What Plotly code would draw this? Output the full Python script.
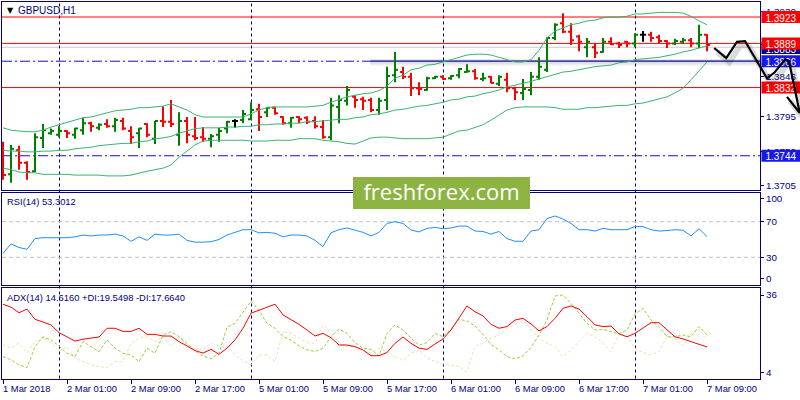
import plotly.graph_objects as go

# ---------------- data ----------------
BAR_OPEN = [1.3754, 1.3720, 1.3751, 1.3735, 1.3724, 1.3767, 1.3773, 1.3771, 1.3776, 1.3771,
            1.3777, 1.3786, 1.3780, 1.3785, 1.3782, 1.3789, 1.3776, 1.3773, 1.3785, 1.3766,
            1.3789, 1.3788, 1.3771, 1.3789, 1.3769, 1.3768, 1.3766, 1.3771, 1.3779, 1.3789,
            1.3790, 1.3791, 1.3804, 1.3800, 1.3806, 1.3794, 1.3786, 1.3794, 1.3793, 1.3789,
            1.3781, 1.3768, 1.3807, 1.3815, 1.3820, 1.3817, 1.3816, 1.3803, 1.3816, 1.3848,
            1.3852, 1.3846, 1.3831, 1.3829, 1.3844, 1.3846, 1.3844, 1.3848, 1.3852, 1.3853,
            1.3843, 1.3846, 1.3837, 1.3842, 1.3831, 1.3825, 1.3829, 1.3846, 1.3855, 1.3896,
            1.3915, 1.3904, 1.3898, 1.3884, 1.3884, 1.3878, 1.3891, 1.3889, 1.3891, 1.3889,
            1.3900, 1.3900, 1.3897, 1.3892, 1.3889, 1.3891, 1.3893, 1.3889, 1.3900]
BAR_HIGH = [1.3762, 1.3758, 1.3757, 1.3737, 1.3773, 1.3785, 1.3779, 1.3782, 1.3777, 1.3780,
            1.3793, 1.3788, 1.3786, 1.3791, 1.3793, 1.3793, 1.3782, 1.3780, 1.3786, 1.3789,
            1.3808, 1.3816, 1.3800, 1.3794, 1.3794, 1.3781, 1.3772, 1.3780, 1.3789, 1.3791,
            1.3803, 1.3813, 1.3811, 1.3807, 1.3807, 1.3795, 1.3794, 1.3795, 1.3795, 1.3795,
            1.3790, 1.3819, 1.3822, 1.3834, 1.3822, 1.3820, 1.3819, 1.3819, 1.3859, 1.3878,
            1.3859, 1.3851, 1.3839, 1.3846, 1.3847, 1.3848, 1.3848, 1.3857, 1.3862, 1.3856,
            1.3851, 1.3847, 1.3848, 1.3851, 1.3833, 1.3843, 1.3852, 1.3871, 1.3897, 1.3915,
            1.3928, 1.3915, 1.3900, 1.3896, 1.3889, 1.3896, 1.3897, 1.3891, 1.3892, 1.3902,
            1.3905, 1.3904, 1.3900, 1.3893, 1.3895, 1.3896, 1.3896, 1.3913, 1.3901]
BAR_LOW = [1.3713, 1.3709, 1.3726, 1.3713, 1.3723, 1.3754, 1.3771, 1.3768, 1.3767, 1.3766,
           1.3771, 1.3775, 1.3777, 1.3780, 1.3775, 1.3777, 1.3759, 1.3754, 1.3768, 1.3759,
           1.3781, 1.3781, 1.3757, 1.3760, 1.3764, 1.3762, 1.3755, 1.3762, 1.3773, 1.3780,
           1.3786, 1.3790, 1.3776, 1.3794, 1.3797, 1.3784, 1.3780, 1.3786, 1.3785, 1.3779,
           1.3766, 1.3764, 1.3786, 1.3809, 1.3806, 1.3803, 1.3800, 1.3797, 1.3803, 1.3839,
           1.3843, 1.3821, 1.3822, 1.3828, 1.3843, 1.3842, 1.3842, 1.3844, 1.3851, 1.3842,
           1.3840, 1.3838, 1.3834, 1.3826, 1.3816, 1.3816, 1.3822, 1.3842, 1.3852, 1.3893,
           1.3902, 1.3887, 1.3879, 1.3871, 1.3870, 1.3877, 1.3887, 1.3883, 1.3884, 1.3884,
           1.3891, 1.3891, 1.3889, 1.3883, 1.3887, 1.3889, 1.3884, 1.3883, 1.3879]
BAR_CLOSE = [1.3719, 1.3753, 1.3735, 1.3723, 1.3768, 1.3777, 1.3776, 1.3776, 1.3773, 1.3779,
             1.3786, 1.3782, 1.3784, 1.3782, 1.3790, 1.3779, 1.3768, 1.3779, 1.3771, 1.3789,
             1.3788, 1.3785, 1.3789, 1.3771, 1.3767, 1.3766, 1.3769, 1.3776, 1.3788, 1.3789,
             1.3798, 1.3803, 1.3794, 1.3806, 1.3799, 1.3786, 1.3793, 1.3791, 1.3788, 1.3782,
             1.3768, 1.3809, 1.3816, 1.3829, 1.3816, 1.3815, 1.3803, 1.3815, 1.3847, 1.3855,
             1.3846, 1.3831, 1.3830, 1.3844, 1.3846, 1.3843, 1.3847, 1.3856, 1.3853, 1.3844,
             1.3844, 1.3838, 1.3846, 1.3831, 1.3826, 1.3830, 1.3846, 1.3859, 1.3896, 1.3913,
             1.3904, 1.3893, 1.3891, 1.3891, 1.3877, 1.3891, 1.3888, 1.3887, 1.3889, 1.3900,
             1.3900, 1.3896, 1.3892, 1.3889, 1.3892, 1.3893, 1.3889, 1.3900, 1.3887]

BB_UPPER = [1.3780, 1.3777, 1.3776, 1.3775, 1.3775, 1.3777, 1.3781, 1.3784, 1.3786, 1.3790,
            1.3793, 1.3794, 1.3797, 1.3799, 1.3802, 1.3803, 1.3804, 1.3806, 1.3806, 1.3807,
            1.3808, 1.3811, 1.3807, 1.3803, 1.3797, 1.3794, 1.3794, 1.3794, 1.3794, 1.3794,
            1.3794, 1.3798, 1.3803, 1.3806, 1.3807, 1.3807, 1.3807, 1.3807, 1.3807, 1.3808,
            1.3809, 1.3813, 1.3817, 1.3820, 1.3822, 1.3824, 1.3825, 1.3828, 1.3834, 1.3844,
            1.3848, 1.3855, 1.3857, 1.3861, 1.3862, 1.3865, 1.3868, 1.3871, 1.3874, 1.3875,
            1.3875, 1.3874, 1.3871, 1.3868, 1.3865, 1.3865, 1.3868, 1.3880, 1.3896, 1.3905,
            1.3909, 1.3913, 1.3915, 1.3918, 1.3919, 1.3922, 1.3923, 1.3923, 1.3924, 1.3927,
            1.3927, 1.3928, 1.3929, 1.3929, 1.3929, 1.3928, 1.3924, 1.3918, 1.3913]
BB_MIDDLE = [1.3751, 1.3750, 1.3750, 1.3749, 1.3749, 1.3750, 1.3750, 1.3751, 1.3751, 1.3753,
             1.3754, 1.3755, 1.3757, 1.3758, 1.3759, 1.3760, 1.3760, 1.3762, 1.3763, 1.3766,
             1.3767, 1.3769, 1.3773, 1.3776, 1.3779, 1.3780, 1.3780, 1.3780, 1.3781, 1.3781,
             1.3782, 1.3782, 1.3784, 1.3784, 1.3785, 1.3785, 1.3786, 1.3786, 1.3788, 1.3788,
             1.3789, 1.3790, 1.3791, 1.3791, 1.3793, 1.3794, 1.3797, 1.3798, 1.3800, 1.3803,
             1.3804, 1.3806, 1.3808, 1.3809, 1.3811, 1.3813, 1.3816, 1.3817, 1.3820, 1.3821,
             1.3824, 1.3826, 1.3829, 1.3833, 1.3835, 1.3838, 1.3840, 1.3843, 1.3846, 1.3849,
             1.3852, 1.3853, 1.3855, 1.3857, 1.3859, 1.3860, 1.3861, 1.3864, 1.3865, 1.3868,
             1.3869, 1.3870, 1.3871, 1.3873, 1.3875, 1.3878, 1.3880, 1.3883, 1.3886]
BB_LOWER = [1.3728, 1.3726, 1.3723, 1.3722, 1.3722, 1.3720, 1.3720, 1.3720, 1.3720, 1.3719,
            1.3719, 1.3719, 1.3719, 1.3718, 1.3718, 1.3718, 1.3719, 1.3722, 1.3724, 1.3726,
            1.3728, 1.3732, 1.3742, 1.3750, 1.3758, 1.3763, 1.3764, 1.3764, 1.3764, 1.3764,
            1.3764, 1.3763, 1.3763, 1.3763, 1.3764, 1.3764, 1.3764, 1.3766, 1.3766, 1.3766,
            1.3764, 1.3763, 1.3762, 1.3760, 1.3759, 1.3763, 1.3767, 1.3768, 1.3768, 1.3767,
            1.3766, 1.3766, 1.3766, 1.3766, 1.3767, 1.3768, 1.3772, 1.3776, 1.3777, 1.3781,
            1.3784, 1.3790, 1.3797, 1.3803, 1.3806, 1.3807, 1.3807, 1.3807, 1.3807, 1.3806,
            1.3804, 1.3804, 1.3804, 1.3806, 1.3806, 1.3807, 1.3808, 1.3809, 1.3809, 1.3811,
            1.3812, 1.3815, 1.3817, 1.3820, 1.3825, 1.3831, 1.3842, 1.3853, 1.3865]

RSI = [34.5, 45, 41, 39, 51, 52, 52, 52, 52, 53,
       55, 54, 55, 55, 56, 54, 48, 53, 49, 56,
       55, 55, 56, 49, 47, 47, 47.5, 50, 55, 58,
       61, 61, 57.5, 58, 57, 53, 55, 55, 54, 49,
       42, 57.5, 61, 63, 60.5, 58, 54, 58, 68, 70,
       68, 60.7, 58.5, 62.5, 63.7, 62, 63, 65, 65, 59.5,
       59, 56, 59, 51, 48, 48, 59.5, 61, 73.5, 76.4,
       73, 68, 61, 61, 59.5, 62.5, 61, 61, 61, 64.5,
       64.5, 61, 59.5, 60, 61, 60.5, 54, 62, 53.3]

ADX = [32.2, 31, 28.7, 30.2, 26, 24.9, 23.7, 20.5, 18.8, 17,
       17.8, 18.3, 18.7, 22.3, 22.3, 21, 21, 22.3, 19.8, 19.8,
       19.1, 19.1, 16.8, 15, 13.1, 12.1, 13.6, 11.6, 14.1, 17.5,
       22.3, 28.5, 29.8, 31, 32.2, 27.8, 26, 23.9, 21.6, 19.1,
       20.2, 18.4, 15.4, 15.4, 14.7, 13.4, 11, 11, 12.3, 16.1,
       18.7, 16.1, 14.1, 13.6, 15.8, 17.9, 21.6, 26.4, 31.5, 29.1,
       27.4, 23.9, 22.3, 23, 25.7, 26.4, 24.1, 21.2, 23, 26.4,
       30.5, 31.5, 30.2, 27.1, 23.7, 23, 23.2, 20, 18.8, 20.2,
       22.3, 24.6, 24.6, 21.6, 18.8, 17.9, 16.8, 15.4, 14.6]
PLUS_DI = [10.6, 9.3, 7.2, 6.1, 14.7, 18.8, 17.5, 15, 12, 10.6,
           16.8, 14.7, 12.7, 17.5, 14.1, 12, 11.3, 8.6, 14.1, 12,
           19.5, 20.9, 18.8, 16.1, 13, 10.9, 9.7, 12, 22.7, 24.3,
           28.7, 33.5, 29.8, 24.3, 22.3, 18.8, 17.5, 15, 13.4, 12.7,
           14.1, 18.8, 21.9, 20.2, 16.4, 14.1, 13.6, 10.9, 20.2, 23.7,
           21.6, 18.2, 15.4, 16.4, 20.2, 18.8, 21.9, 26, 25.3, 23.2,
           19.8, 15.7, 13.4, 10.6, 9.7, 10.9, 14.4, 19.5, 25.7, 35.6,
           36, 32.6, 28.5, 24.3, 21.6, 21.9, 20.9, 20, 21.6, 28.2,
           30.5, 25.7, 23, 18.8, 18.8, 19.5, 18.8, 23, 19.5]
MINUS_DI = [15.4, 14.1, 16.1, 12.3, 16.8, 18.4, 16.4, 12.7, 14.7, 10,
            8.6, 7.2, 6.5, 6.1, 8.6, 8.6, 16.1, 18.4, 18.8, 16.8,
            18.8, 14.7, 18.8, 15.4, 13.6, 13.6, 16.1, 15, 15, 11.3,
            9, 7.2, 11.3, 11.3, 8.6, 20.9, 20.2, 18.2, 16.4, 16.1,
            23.7, 20.2, 16.1, 14.7, 15, 12.7, 12.3, 14.1, 12.7, 10.6,
            9, 12, 13.4, 10, 8.6, 7.6, 7.2, 6.5, 4.4, 15,
            16.1, 18.2, 19.5, 22.3, 23.9, 25.3, 21.9, 18.4, 16.1, 14.7,
            10.6, 13.4, 16.8, 20.2, 18.8, 16.1, 12.7, 20.2, 18.8, 14.1,
            12.3, 11.3, 12.7, 18.8, 18.2, 15, 20.2, 21.9, 17.7]

X_TICK_POS = [0, 8, 16, 24, 32, 40, 48, 56, 64, 72, 80, 88]
X_TICK_TEXT = ["1 Mar 2018", "2 Mar 01:00", "2 Mar 09:00", "2 Mar 17:00", "5 Mar 01:00",
               "5 Mar 09:00", "5 Mar 17:00", "6 Mar 01:00", "6 Mar 09:00", "6 Mar 17:00",
               "7 Mar 01:00", "7 Mar 09:00"]
DAY_SEPARATORS = [7, 31, 55, 79]
PRICE_TICKS = [1.3930, 1.3888, 1.3846, 1.3795, 1.3750, 1.3705]
# MT4 draws the 0 / 100 scale labels pulled inside the window
RSI_TICK_POS = [6, 30, 70, 95.5]
RSI_TICK_TEXT = ["0", "30", "70", "100"]
RSI_LEVELS = [70, 30]
ADX_TICKS = [4, 36]
RED_LEVELS = [1.3923, 1.3889, 1.3832]
BLUE_LEVELS = [1.3866, 1.3744]
ZONE_LEVEL = 1.3866
ZONE_START = 45.9
BID = 1.3884
FORECAST_X = [88.9, 90.4, 91.75, 92.75, 95.5, 96.5, 97.75, 98.25, 99.6]
FORECAST_Y = [1.3883, 1.3870, 1.3891, 1.3892, 1.3844, 1.3852, 1.3868, 1.3866, 1.3799]
ARROW_BARB = (98.0, 1.3820)
SYMBOL = "GBPUSD,H1"
RSI_TITLE = "RSI(14) 53.3012"
ADX_TITLE = "ADX(14) 14.6160 +DI:19.5498 -DI:17.6640"
WATERMARK = "freshforex.com"

# ---------------- layout geometry ----------------
W, H = 800, 400
NAVY = "#000080"
FONT = "Liberation Sans"
TXT = 9.4


def fx(p):
    return p / W


def fy(p):
    return 1 - p / H


X_DOM = [fx(2), fx(760)]
MAIN_DOM = [fy(190), fy(2)]
RSI_DOM = [fy(285), fy(193)]
ADX_DOM = [fy(378.5), fy(287.5)]
X_RANGE = [-0.125, 94.625]
PRICE_RANGE = [1.36998, 1.39424]
RSI_RANGE = [-1.1, 102.2]
ADX_RANGE = [1.6, 39.1]
HALF_PX_X = 0.5 / 8  # half a pixel in bar units (crisp 1px verticals)


def paper_x(i):
    return X_DOM[0] + (i - X_RANGE[0]) / (X_RANGE[1] - X_RANGE[0]) * (X_DOM[1] - X_DOM[0])


def paper_y(p):
    return MAIN_DOM[0] + (p - PRICE_RANGE[0]) / (PRICE_RANGE[1] - PRICE_RANGE[0]) * (MAIN_DOM[1] - MAIN_DOM[0])


N = len(BAR_OPEN)
IDX = list(range(N))
is_doji = [BAR_OPEN[i] == BAR_CLOSE[i] for i in IDX]


def pick(arr, want):
    return [arr[i] if is_doji[i] == want else None for i in IDX]


fig = go.Figure()

# Bollinger bands
for band in (BB_UPPER, BB_MIDDLE, BB_LOWER):
    fig.add_trace(go.Scatter(x=IDX, y=band, mode="lines", line=dict(color="#3cb371", width=1),
                             hoverinfo="skip", showlegend=False, xaxis="x", yaxis="y"))

# OHLC bars
fig.add_trace(go.Ohlc(x=IDX, open=pick(BAR_OPEN, False), high=pick(BAR_HIGH, False),
                      low=pick(BAR_LOW, False), close=pick(BAR_CLOSE, False),
                      increasing=dict(line=dict(color="#008000", width=2)),
                      decreasing=dict(line=dict(color="#ff0000", width=2)),
                      tickwidth=0.38, showlegend=False, hoverinfo="skip", xaxis="x", yaxis="y"))
fig.add_trace(go.Ohlc(x=IDX, open=pick(BAR_OPEN, True), high=pick(BAR_HIGH, True),
                      low=pick(BAR_LOW, True), close=pick(BAR_CLOSE, True),
                      increasing=dict(line=dict(color="#000000", width=2)),
                      decreasing=dict(line=dict(color="#000000", width=2)),
                      tickwidth=0.38, showlegend=False, hoverinfo="skip", xaxis="x", yaxis="y"))

# RSI
fig.add_trace(go.Scatter(x=IDX, y=RSI, mode="lines", line=dict(color="#1e90ff", width=1),
                         hoverinfo="skip", showlegend=False, xaxis="x2", yaxis="y2"))

# ADX
fig.add_trace(go.Scatter(x=IDX, y=MINUS_DI, mode="lines", line=dict(color="#f5deb3", width=1, dash="3px,2px"),
                         hoverinfo="skip", showlegend=False, xaxis="x3", yaxis="y3"))
fig.add_trace(go.Scatter(x=IDX, y=PLUS_DI, mode="lines", line=dict(color="#9acd32", width=1, dash="3px,2px"),
                         hoverinfo="skip", showlegend=False, xaxis="x3", yaxis="y3"))
fig.add_trace(go.Scatter(x=IDX, y=ADX, mode="lines", line=dict(color="#ff0000", width=1),
                         hoverinfo="skip", showlegend=False, xaxis="x3", yaxis="y3"))

shapes = []
# bid line
shapes.append(dict(type="line", xref="paper", x0=X_DOM[0], x1=X_DOM[1], yref="y", y0=BID, y1=BID,
                   line=dict(color="#cccccc", width=1), layer="below"))
for lv in RED_LEVELS:
    shapes.append(dict(type="line", xref="paper", x0=X_DOM[0], x1=X_DOM[1], yref="y", y0=lv, y1=lv,
                       line=dict(color="#ff0000", width=1), layer="below"))
for lv in BLUE_LEVELS:
    x_end = ZONE_START if lv == ZONE_LEVEL else X_RANGE[1]
    shapes.append(dict(type="line", xref="x", x0=X_RANGE[0], x1=x_end, yref="y", y0=lv, y1=lv,
                       line=dict(color="#1010c8", width=1, dash="10px,3px,2px,3px"), layer="below"))
# highlighted zone at 1.3866 (line with soft shadow below it)
for k, alpha in enumerate([0.13, 0.10, 0.07, 0.04]):
    off = (k + 1) * 0.00013
    shapes.append(dict(type="line", xref="x", x0=ZONE_START, x1=X_RANGE[1], yref="y",
                       y0=ZONE_LEVEL - off, y1=ZONE_LEVEL - off,
                       line=dict(color=f"rgba(60,60,80,{alpha})", width=1.5), layer="below"))
shapes.append(dict(type="line", xref="x", x0=ZONE_START, x1=X_RANGE[1], yref="y",
                   y0=ZONE_LEVEL + 0.00008, y1=ZONE_LEVEL + 0.00008,
                   line=dict(color="rgba(110,110,170,0.30)", width=2), layer="below"))
shapes.append(dict(type="line", xref="x", x0=ZONE_START, x1=X_RANGE[1], yref="y",
                   y0=ZONE_LEVEL, y1=ZONE_LEVEL, line=dict(color="#10108c", width=1.2), layer="below"))
# day separators
for d in DAY_SEPARATORS:
    shapes.append(dict(type="line", xref="x", x0=d + HALF_PX_X, x1=d + HALF_PX_X, yref="paper",
                       y0=ADX_DOM[0], y1=MAIN_DOM[1],
                       line=dict(color="#000070", width=1, dash="3px,3px"), layer="below"))
# RSI levels
for lv in RSI_LEVELS:
    shapes.append(dict(type="line", xref="paper", x0=X_DOM[0], x1=X_DOM[1], yref="y2", y0=lv, y1=lv,
                       line=dict(color="#c0c0c0", width=1, dash="4px,3px"), layer="below"))

# watermark
shapes.append(dict(type="rect", xref="paper", yref="paper", x0=fx(353), x1=fx(530), y0=fy(209), y1=fy(177),
                   fillcolor="#8db443", line=dict(width=0), layer="above",
                   label=dict(text=WATERMARK, font=dict(family="Open Sans", size=22, color="white"),
                              textposition="middle center")))

# price labels on the axis
LABEL_X0 = fx(761.5)
HALF = 6 / H


def price_label(price, color, text=None):
    return dict(type="rect", xref="paper", yref="paper", x0=LABEL_X0, x1=1.0,
                y0=paper_y(price) - HALF, y1=paper_y(price) + HALF,
                fillcolor=color, line=dict(width=0), layer="above",
                label=dict(text=text or f"{price:.4f}", font=dict(family=FONT, size=10, color="white"),
                           textposition="middle center"))


shapes.append(price_label(BID - 0.0001, "#000080", f"{BID - 0.0001:.4f}"))
for lv in RED_LEVELS:
    shapes.append(price_label(lv, "#ff0000"))
for lv in BLUE_LEVELS:
    shapes.append(price_label(lv, "#1818e8"))

# hand-drawn forecast arrow (with shadow)
pts = [(paper_x(a), paper_y(b)) for a, b in zip(FORECAST_X, FORECAST_Y)]
barb = (paper_x(ARROW_BARB[0]), paper_y(ARROW_BARB[1]))


def path_of(points, b, dx=0.0, dy=0.0):
    s = "M " + " L ".join(f"{x + dx:.5f},{y + dy:.5f}" for x, y in points)
    s += f" M {b[0] + dx:.5f},{b[1] + dy:.5f} L {points[-1][0] + dx:.5f},{points[-1][1] + dy:.5f}"
    return s


shapes.append(dict(type="path", xref="paper", yref="paper", path=path_of(pts, barb, 3 / W, -4 / H),
                   line=dict(color="rgba(0,0,0,0.14)", width=6), layer="above"))
shapes.append(dict(type="path", xref="paper", yref="paper", path=path_of(pts, barb),
                   line=dict(color="#000000", width=2.2), layer="above"))

annotations = []
annotations.append(dict(text="▼", xref="paper", yref="paper", x=fx(5), y=fy(10), xanchor="left",
                        yanchor="middle", showarrow=False, font=dict(family="DejaVu Sans", size=8, color="#000000")))
annotations.append(dict(text=SYMBOL, xref="paper", yref="paper", x=fx(16), y=fy(10), xanchor="left",
                        yanchor="middle", showarrow=False, font=dict(family=FONT, size=10, color=NAVY)))
annotations.append(dict(text=RSI_TITLE, xref="paper", yref="paper", x=fx(5), y=fy(201.5), xanchor="left",
                        yanchor="middle", showarrow=False, font=dict(family=FONT, size=TXT, color=NAVY)))
annotations.append(dict(text=ADX_TITLE, xref="paper", yref="paper", x=fx(5), y=fy(297), xanchor="left",
                        yanchor="middle", showarrow=False, font=dict(family=FONT, size=TXT, color=NAVY)))
for pos, txt in zip(X_TICK_POS, X_TICK_TEXT):
    annotations.append(dict(text=txt, xref="x3", yref="paper", x=pos, y=fy(388.5), xanchor="left",
                            yanchor="middle", xshift=-2, showarrow=False,
                            font=dict(family=FONT, size=TXT, color=NAVY)))

axis_common = dict(showgrid=False, zeroline=False, showline=True, mirror=True, linecolor=NAVY, linewidth=1)
tick_font = dict(family=FONT, size=9.8, color=NAVY)

fig.update_layout(
    width=W, height=H, margin=dict(l=0, r=0, t=0, b=0),
    paper_bgcolor="white", plot_bgcolor="rgba(0,0,0,0)",
    showlegend=False, hovermode=False,
    font=dict(family=FONT, size=TXT, color=NAVY),
    xaxis=dict(domain=X_DOM, range=X_RANGE, anchor="y", showticklabels=False, ticks="",
               rangeslider=dict(visible=False), **axis_common),
    xaxis2=dict(domain=X_DOM, range=X_RANGE, anchor="y2", showticklabels=False, ticks="", **axis_common),
    xaxis3=dict(domain=X_DOM, range=X_RANGE, anchor="y3", showticklabels=False, ticks="outside",
                tickvals=X_TICK_POS, ticklen=4, tickcolor=NAVY, **axis_common),
    yaxis=dict(domain=MAIN_DOM, range=PRICE_RANGE, anchor="x", side="right", tickvals=PRICE_TICKS,
               ticktext=[f"{t:.4f}" for t in PRICE_TICKS], ticks="outside", ticklen=3, tickcolor=NAVY,
               tickfont=tick_font, **axis_common),
    yaxis2=dict(domain=RSI_DOM, range=RSI_RANGE, anchor="x2", side="right", tickvals=RSI_TICK_POS,
                ticktext=RSI_TICK_TEXT, ticks="outside", ticklen=3, tickcolor=NAVY,
                tickfont=tick_font, **axis_common),
    yaxis3=dict(domain=ADX_DOM, range=ADX_RANGE, anchor="x3", side="right", tickvals=ADX_TICKS,
                ticks="outside", ticklen=3, tickcolor=NAVY,
                tickfont=tick_font, **axis_common),
    shapes=shapes,
    annotations=annotations,
)

fig.write_html("out.html", config={"displayModeBar": False, "staticPlot": True},
               post_script="document.body.style.margin='0px';document.body.style.overflow='hidden';")
